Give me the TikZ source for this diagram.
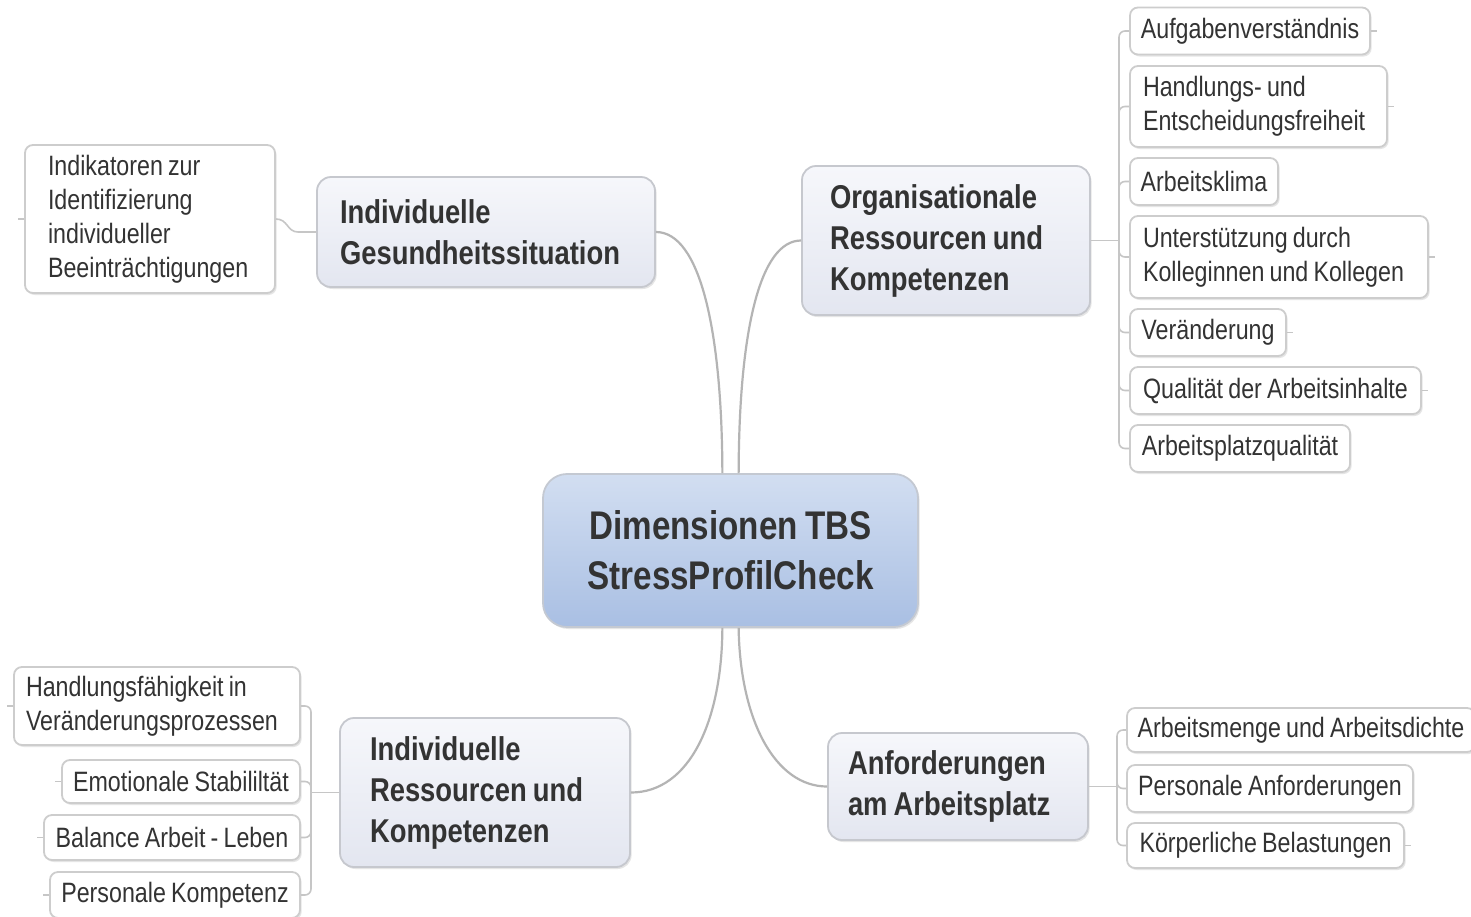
\documentclass[tikz,border=0pt]{standalone}
\usepackage{fontspec}
\setmainfont{Liberation Sans}[FakeStretch=0.83,WordSpace=0.8]
\usetikzlibrary{shadows}
\definecolor{txt}{HTML}{333333}
\definecolor{ctop}{HTML}{D2DEF1}
\definecolor{cbot}{HTML}{A9BFE3}
\definecolor{cborder}{HTML}{C4C9D2}
\definecolor{ttop}{HTML}{F6F7FB}
\definecolor{tbot}{HTML}{E3E6F0}
\definecolor{tborder}{HTML}{C6C8CE}
\definecolor{lborder}{HTML}{CDCDCD}
\definecolor{branchc}{HTML}{B4B4B4}
\definecolor{twigc}{HTML}{C6C6C6}
\tikzset{
  softshadow/.style={drop shadow={shadow xshift=0.8pt,shadow yshift=-1pt,opacity=0.22,fill=black!45}},
  central/.style={draw=cborder, line width=0.9pt, rounded corners=12pt, top color=ctop, bottom color=cbot,
    minimum width=187.5pt, minimum height=76.5pt, align=center, text=txt,
    font=\fontsize{20}{25}\selectfont\bfseries, softshadow},
  topic/.style={draw=tborder, line width=0.9pt, rounded corners=7pt, top color=ttop, bottom color=tbot,
    align=flush left, text=txt, font=\fontsize{16.5}{20.5}\selectfont\bfseries, softshadow},
  leaf/.style={draw=lborder, line width=0.9pt, fill=white, rounded corners=4pt, text=txt,
    font=\fontsize{14}{17}\selectfont, inner xsep=3pt, minimum height=23.5pt, softshadow},
  leafml/.style={leaf, align=flush left},
  branch/.style={draw=branchc, line width=1.1pt},
  twig/.style={draw=twigc, line width=0.8pt},
}
\begin{document}
\begin{tikzpicture}[x=0.5pt,y=-0.5pt]
\useasboundingbox (0,0) rectangle (1471,916);
\fill[white] (0,0) rectangle (1471,916);

% central
\node[central] (c) at (730.5,550.5) {Dimensionen TBS\\StressProfilCheck};

% main topics
\node[topic, text width=146pt, inner xsep=11.5pt, minimum height=55pt] (t1) at (486,232) {Individuelle\\Gesundheitssituation};
\node[topic, text width=116pt, inner xsep=14pt, minimum height=74.5pt] (t2) at (946,240.5) {Organisationale\\Ressourcen und\\Kompetenzen};
\node[topic, text width=115pt, inner xsep=15pt, minimum height=74.5pt] (t3) at (485,792.5) {Individuelle\\Ressourcen und\\Kompetenzen};
\node[topic, text width=110pt, inner xsep=10pt, minimum height=53.5pt] (t4) at (958,786.5) {Anforderungen\\am Arbeitsplatz};

% leaves top right
\node[leaf, minimum width=120pt] (a1) at (1250,31) {Aufgabenverständnis};
\node[leafml, text width=115.5pt, inner xsep=6.5pt, minimum height=40.5pt] (a2) at (1258.5,106.5) {Handlungs- und\\Entscheidungsfreiheit};
\node[leaf, minimum width=74pt] (a3) at (1204,181.5) {Arbeitsklima};
\node[leafml, text width=136pt, inner xsep=6.5pt, minimum height=41pt] (a4) at (1279,257) {Unterstützung durch\\Kolleginnen und Kollegen};
\node[leaf, minimum width=78pt] (a5) at (1208,332.5) {Veränderung};
\node[leaf, minimum width=145.5pt] (a6) at (1275.5,390.5) {Qualität der Arbeitsinhalte};
\node[leaf, minimum width=110pt] (a7) at (1240,448.5) {Arbeitsplatzqualität};

% leaf top left
\node[leafml, text width=102pt, inner xsep=11.5pt, minimum height=74pt] (ind) at (150,219) {Indikatoren zur\\Identifizierung\\individueller\\Beeinträchtigungen};

% leaves bottom left
\node[leafml, text width=131pt, inner xsep=6pt, minimum height=39pt] (b1) at (157,706) {Handlungsfähigkeit in\\Veränderungsprozessen};
\node[leaf, minimum width=119pt, minimum height=21.5pt] (b2) at (181,781.5) {Emotionale Stabililtät};
\node[leaf, minimum width=128pt, minimum height=22.5pt] (b3) at (172,837.5) {Balance Arbeit - Leben};
\node[leaf, minimum width=125pt, minimum height=23pt] (b4) at (175,895) {Personale Kompetenz};

% leaves bottom right
\node[leaf, minimum width=174pt, minimum height=22pt] (r1) at (1301,730) {Arbeitsmenge und Arbeitsdichte};
\node[leaf, minimum width=143pt] (r2) at (1270,788.5) {Personale Anforderungen};
\node[leaf, minimum width=138.5pt, minimum height=22.5pt] (r3) at (1265.5,845.5) {Körperliche Belastungen};

% main branches
\draw[branch] (c.96) .. controls (722,330) and (700,232) .. (t1.east);
\draw[branch] (c.84) .. controls (739,330) and (760,240.5) .. (t2.west);
\draw[branch] (c.264) .. controls (722,720) and (690,792.5) .. (t3.east);
\draw[branch] (c.276) .. controls (740,720) and (775,786.5) .. (t4.west);

% top-left twig
\coordinate (k1) at (298,232);
\draw[twig] (t1.west) -- (k1) .. controls (287,232) and (288,219) .. (ind.east);

% top-right spine
\coordinate (s2) at (1119,240.5);
\draw[twig] (t2.east) -- (s2);
\foreach \l in {a1,a2,a3,a4,a5,a6,a7} \draw[twig, rounded corners=3pt] (s2) |- (\l.west);

% bottom-left spine
\coordinate (s3) at (311,792.5);
\draw[twig] (t3.west) -- (s3);
\foreach \l in {b1,b2,b3,b4} \draw[twig, rounded corners=3pt] (s3) |- (\l.east);

% bottom-right spine
\coordinate (s4) at (1117,786.5);
\draw[twig] (t4.east) -- (s4);
\foreach \l in {r1,r2,r3} \draw[twig, rounded corners=3pt] (s4) |- (\l.west);

% collapse stubs
\foreach \l in {a1,a2,a4,a5,a6,r3} \draw[twig] (\l.east) -- ++(6,0);
\foreach \l in {ind,b1,b2,b3,b4} \draw[twig] (\l.west) -- ++(-6,0);
\end{tikzpicture}
\end{document}
